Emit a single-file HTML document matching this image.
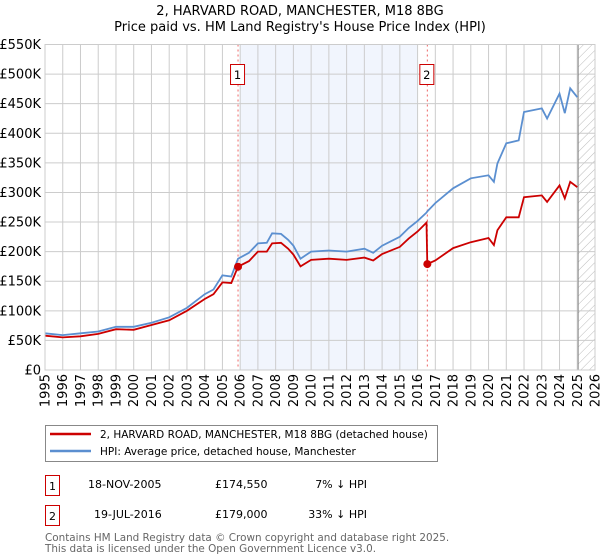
<!DOCTYPE html>
<html><head><meta charset="utf-8"><style>
body{margin:0;background:#fff;font-family:"Liberation Sans","DejaVu Sans",sans-serif}
svg{display:block}
</style></head><body>
<svg id="c" width="600" height="560" xmlns="http://www.w3.org/2000/svg" font-family="DejaVu Sans, Liberation Sans, sans-serif">
<text x="300" y="15" text-anchor="middle" font-size="13">2, HARVARD ROAD, MANCHESTER, M18 8BG</text>
<text x="300" y="31" text-anchor="middle" font-size="13">Price paid vs. HM Land Registry's House Price Index (HPI)</text>
<defs><pattern id="hatch" width="6" height="6" patternUnits="userSpaceOnUse" patternTransform="rotate(45)"><line x1="0" y1="0" x2="0" y2="6" stroke="#bbb" stroke-width="1"/></pattern></defs>
<g id="plot"></g>
<g>
<rect x="45.5" y="425.5" width="392" height="36" fill="#fff" stroke="#888"/>
<line x1="50" y1="434" x2="91" y2="434" stroke="#cc0000" stroke-width="2.5"/>
<text x="100" y="438" font-size="10.5">2, HARVARD ROAD, MANCHESTER, M18 8BG (detached house)</text>
<line x1="50" y1="451" x2="91" y2="451" stroke="#5b8fd0" stroke-width="2.5"/>
<text x="100" y="455" font-size="10.5">HPI: Average price, detached house, Manchester</text>
</g>
<g font-size="11">
<rect x="45.5" y="475.5" width="14" height="20" fill="#fff" stroke="#cc0000"/><text x="52.5" y="490" text-anchor="middle">1</text>
<text x="88" y="488">18-NOV-2005</text><text x="215" y="488">£174,550</text><text x="367" y="488" text-anchor="end">7% ↓ HPI</text>
<rect x="45.5" y="505.5" width="14" height="20" fill="#fff" stroke="#cc0000"/><text x="52.5" y="520" text-anchor="middle">2</text>
<text x="94" y="518">19-JUL-2016</text><text x="215" y="518">£179,000</text><text x="367" y="518" text-anchor="end">33% ↓ HPI</text>
</g>
<text x="45" y="541" font-size="10.4" fill="#666">Contains HM Land Registry data © Crown copyright and database right 2025.</text>
<text x="45" y="552" font-size="10.4" fill="#666">This data is licensed under the Open Government Licence v3.0.</text>
</svg>
<script>
const years=[1995,1996,1997,1998,1999,2000,2001,2002,2003,2004,2004.5,2005,2005.5,2005.88,2006.5,2007,2007.5,2007.8,2008.3,2008.7,2009,2009.4,2010,2011,2012,2013,2013.5,2014,2015,2015.5,2016,2016.5,2016.55,2017,2018,2019,2020,2020.3,2020.5,2021,2021.7,2022,2023,2023.3,2024,2024.3,2024.6,2025];
const hpiValues=[62,59,62,65,73,73,80,89,105,128,136,160,158,188,198,214,215,231,230,220,210,188,200,202,200,205,198,210,225,240,252,266,268,282,307,324,329,318,349,383,388,436,442,425,467,434,476,461];
const priceValues=[58,55,57,61,69,68,76,84,100,120,128,148,147,174.55,184,200,200,214,215,205,195,175,186,188,186,190,185,196,208,222,234,249,179,185,206,216,223,211,236,258,258,292,295,284,312,290,318,309];
const saleYears=[2005.88,2016.55];
const salePrices=[174.55,179];
const yTicks=[0,50,100,150,200,250,300,350,400,450,500,550];
const xTicks=[1995,1996,1997,1998,1999,2000,2001,2002,2003,2004,2005,2006,2007,2008,2009,2010,2011,2012,2013,2014,2015,2016,2017,2018,2019,2020,2021,2022,2023,2024,2025,2026];
const L=45,R=595,T=44.5,B=370;
const X=y=>L+(y-1995)/(2026-1995)*(R-L);
const Y=v=>B-v/550*(B-T);
const NS="http://www.w3.org/2000/svg";
const g=document.getElementById('plot');
function mk(t,a){const e=document.createElementNS(NS,t);for(const k in a)e.setAttribute(k,a[k]);g.appendChild(e);return e;}
let e=mk('rect',{x:X(2006),y:T,width:X(2016)-X(2006),height:B-T,fill:'#eef3fc',opacity:0.8});


e=mk('rect',{x:X(2025.05),y:T,width:R-X(2025.05),height:B-T,fill:'url(#hatch)'});


yTicks.forEach(v=>{
 const l=mk('line',{x1:L,x2:R,y1:Y(v),y2:Y(v),stroke:'#ccc'});
 
 
 const t=mk('text',{x:41,y:Y(v)+4.5,'text-anchor':'end','font-size':13});
 
 
 t.textContent=v===0?'£0':'£'+v+'K';
});
xTicks.forEach(y=>{
 const l=mk('line',{x1:X(y),x2:X(y),y1:T,y2:B,stroke:'#ccc'});
 
 
 const t=mk('text',{transform:`translate(${X(y)+4.5},374) rotate(-90)`,'text-anchor':'end','font-size':13});
 
 
 t.textContent=y;
});
e=mk('line',{x1:X(2025.05),x2:X(2025.05),y1:T,y2:B,stroke:'#888'});


saleYears.forEach((s,i)=>{
 const l=mk('line',{x1:X(s),x2:X(s),y1:T,y2:B,stroke:'#e66','stroke-dasharray':'2,3'});
 
 
 const r=mk('rect',{x:X(s)-7.5,y:64.5,width:14,height:20,fill:'#fff',stroke:'#cc0000'});
 
 
 const t=mk('text',{x:X(s)-0.5,y:79,'text-anchor':'middle','font-size':11.5});
 
 
 t.textContent=i+1;
});
const pts=a=>a.map((v,i)=>X(years[i]).toFixed(1)+','+Y(v).toFixed(1)).join(' ');
e=mk('polyline',{points:pts(hpiValues),fill:'none',stroke:'#5b8fd0','stroke-width':1.8});


e=mk('polyline',{points:pts(priceValues),fill:'none',stroke:'#cc0000','stroke-width':1.8});


saleYears.forEach((s,i)=>{
 const c=mk('circle',{cx:X(s),cy:Y(salePrices[i]),r:4,fill:'#cc0000'});
 
 
});
e=mk('rect',{x:L,y:T,width:R-L,height:B-T,fill:'none',stroke:'#ccc'});


</script>
</body></html>
